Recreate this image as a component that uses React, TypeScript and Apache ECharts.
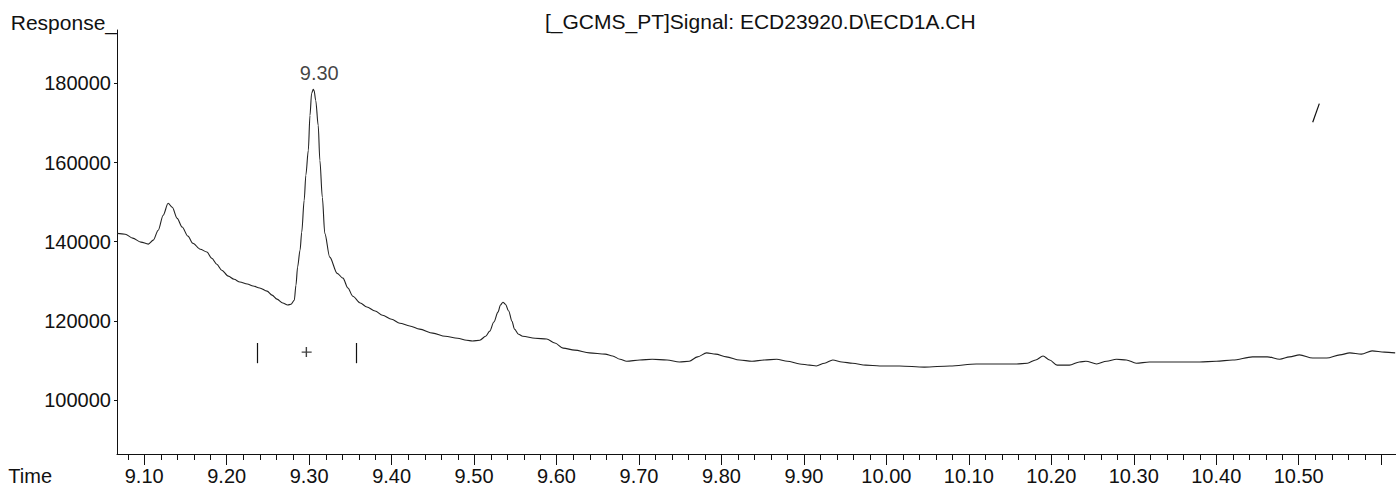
import React, { useEffect, useRef } from "react";
import * as echarts from "echarts";

// Retention time (min) of each trace point
const times = [
  9.067, 9.077, 9.086, 9.096, 9.105, 9.111, 9.117, 9.123, 9.129, 9.134,
  9.140, 9.146, 9.153, 9.159, 9.168, 9.176, 9.182, 9.188, 9.194, 9.202,
  9.209, 9.216, 9.225, 9.232, 9.240, 9.249, 9.255, 9.261, 9.268, 9.274,
  9.278, 9.282, 9.284, 9.286, 9.289, 9.291, 9.294, 9.296, 9.299, 9.301,
  9.303, 9.305, 9.306, 9.308, 9.311, 9.313, 9.316, 9.319, 9.325, 9.334,
  9.341, 9.347, 9.353, 9.362, 9.370, 9.380, 9.389, 9.400, 9.410, 9.422,
  9.434, 9.450, 9.465, 9.480, 9.491, 9.498, 9.507, 9.514, 9.519, 9.524,
  9.529, 9.532, 9.535, 9.538, 9.542, 9.546, 9.549, 9.554, 9.559, 9.574,
  9.588, 9.598, 9.608, 9.622, 9.640, 9.659, 9.668, 9.677, 9.685, 9.701,
  9.716, 9.734, 9.749, 9.761, 9.771, 9.782, 9.793, 9.806, 9.822, 9.837,
  9.852, 9.867, 9.880, 9.895, 9.907, 9.915, 9.925, 9.935, 9.946, 9.959,
  9.975, 9.992, 10.016, 10.046, 10.077, 10.109, 10.137, 10.158, 10.171, 10.181,
  10.190, 10.198, 10.207, 10.222, 10.234, 10.242, 10.255, 10.267, 10.279, 10.291,
  10.303, 10.319, 10.340, 10.362, 10.380, 10.400, 10.420, 10.444, 10.462, 10.477,
  10.489, 10.501, 10.517, 10.534, 10.550, 10.562, 10.576, 10.589, 10.604, 10.617,
];

// Detector response at each of the times above
const responses = [
  142100, 141900, 140900, 139900, 139400, 140400, 142900, 146700, 149700, 148700,
  145900, 143700, 141400, 139600, 138100, 137400, 135800, 134300, 132800, 131300,
  130500, 129800, 129300, 128800, 128300, 127500, 126500, 125500, 124500, 124000,
  124200, 125200, 129000, 133600, 137900, 142400, 150500, 156800, 163100, 171900,
  177500, 178500, 178200, 175700, 169400, 160600, 151200, 142100, 136100, 132000,
  130800, 128300, 126200, 124500, 123500, 122500, 121400, 120400, 119400, 118700,
  117900, 116900, 116100, 115600, 115100, 114900, 115100, 116100, 117400, 119700,
  122200, 124000, 124700, 124200, 122500, 119900, 117900, 116600, 116100, 115600,
  115400, 114400, 113100, 112600, 111900, 111600, 111100, 110300, 109800, 110100,
  110300, 110100, 109600, 109800, 110900, 111900, 111600, 110900, 110100, 109800,
  110100, 110300, 109800, 109100, 108800, 108600, 109300, 110100, 109600, 109300,
  108800, 108600, 108600, 108300, 108600, 109100, 109100, 109100, 109300, 110100,
  111100, 110100, 108800, 108800, 109600, 109800, 109100, 109800, 110300, 110100,
  109300, 109600, 109600, 109600, 109600, 109800, 110100, 110900, 110900, 110300,
  110900, 111400, 110600, 110600, 111400, 111900, 111600, 112400, 112100, 111900,
];

const xTickLabels = [9.1, 9.2, 9.3, 9.4, 9.5, 9.6, 9.7, 9.8, 9.9, 10.0, 10.1, 10.2, 10.3, 10.4, 10.5];
const xMajorTicks = [...xTickLabels, 10.6];
// minor ticks every 0.02 min between the labelled ones
const xMinorTicks = [
  9.08, 9.12, 9.14, 9.16, 9.18, 9.22, 9.24, 9.26, 9.28, 9.32, 9.34, 9.36, 9.38,
  9.42, 9.44, 9.46, 9.48, 9.52, 9.54, 9.56, 9.58, 9.62, 9.64, 9.66, 9.68,
  9.72, 9.74, 9.76, 9.78, 9.82, 9.84, 9.86, 9.88, 9.92, 9.94, 9.96, 9.98,
  10.02, 10.04, 10.06, 10.08, 10.12, 10.14, 10.16, 10.18, 10.22, 10.24, 10.26, 10.28,
  10.32, 10.34, 10.36, 10.38, 10.42, 10.44, 10.46, 10.48, 10.52, 10.54, 10.56, 10.58,
];
const yTickLabels = [100000, 120000, 140000, 160000, 180000];

const titleText = "[_GCMS_PT]Signal: ECD23920.D\\ECD1A.CH";
const yAxisName = "Response_";
const xAxisName = "Time";

const peakTime = 9.305;
const peakResponse = 178500;
const peakLabel = "9.30";

// Integration start/end marks and the apex "+" of the labelled peak
const integrationMarks = [9.237, 9.357];
const integrationTop = 114400;
const integrationBottom = 109300;
const apexMarkTime = 9.297;
const apexMarkResponse = 112100;

// Small stray stroke at the upper right of the page
const strayStroke = [
  [10.517, 170200],
  [10.525, 174900],
];

const X_MIN = 9.067;
const X_MAX = 10.618;
const Y_MIN = 86350;
const Y_MAX = 193500;
const MINOR_TICK_LEN = 6;

const FONT = "'Liberation Sans', Arial, Helvetica, sans-serif";

export default function App() {
  const ref = useRef<HTMLDivElement>(null);

  useEffect(() => {
    document.body.style.margin = "0";
    document.body.style.overflow = "hidden";
    if (!ref.current) return;
    const chart = echarts.init(ref.current, undefined, { renderer: "svg" });

    const markLineData: any[] = integrationMarks.map((t) => [
      { coord: [t, integrationTop] },
      { coord: [t, integrationBottom] },
    ]);
    markLineData.push([{ coord: strayStroke[0] }, { coord: strayStroke[1] }]);

    const option: any = {
      animation: false,
      backgroundColor: "#ffffff",
      textStyle: { fontFamily: FONT, color: "#111" },
      title: {
        text: titleText,
        left: 540,
        top: 6,
        padding: 5,
        textStyle: { fontSize: 21, fontWeight: "normal", color: "#111", fontFamily: FONT },
      },
      grid: { left: 117, right: 0, top: 30, bottom: 43, containLabel: false },
      xAxis: {
        type: "value",
        min: X_MIN,
        max: X_MAX,
        name: xAxisName,
        nameLocation: "start",
        nameGap: 65,
        nameTextStyle: {
          fontSize: 20,
          color: "#111",
          fontFamily: FONT,
          align: "right",
          verticalAlign: "top",
          padding: [12, 0, 0, 0],
        },
        axisLine: { show: true, lineStyle: { color: "#111", width: 1 } },
        axisTick: { show: true, length: 11, customValues: xMajorTicks, lineStyle: { color: "#111", width: 1 } },
        axisLabel: {
          show: true,
          customValues: xTickLabels,
          margin: 12,
          fontSize: 20,
          color: "#111",
          fontFamily: FONT,
          formatter: (v: number) => v.toFixed(2),
        },
        splitLine: { show: false },
      },
      yAxis: {
        type: "value",
        min: Y_MIN,
        max: Y_MAX,
        name: yAxisName,
        nameLocation: "end",
        nameGap: 8,
        nameTextStyle: {
          fontSize: 21,
          color: "#111",
          fontFamily: FONT,
          align: "right",
          verticalAlign: "middle",
        },
        axisLine: { show: true, lineStyle: { color: "#111", width: 1 } },
        axisTick: { show: true, length: 3, customValues: yTickLabels, lineStyle: { color: "#111", width: 1 } },
        axisLabel: {
          show: true,
          customValues: yTickLabels,
          margin: 6,
          fontSize: 20,
          color: "#111",
          fontFamily: FONT,
          formatter: (v: number) => String(v),
        },
        splitLine: { show: false },
      },
      series: [
        {
          type: "line",
          name: "ECD1A",
          data: times.map((t, i) => [t, responses[i]]),
          showSymbol: false,
          smooth: 0.3,
          smoothMonotone: "x",
          lineStyle: { color: "#222", width: 1.1 },
          markLine: {
            silent: true,
            symbol: ["none", "none"],
            label: { show: false },
            lineStyle: { color: "#111", type: "solid", width: 1.2 },
            data: markLineData,
          },
        },
        {
          type: "scatter",
          name: "peak label",
          data: [[peakTime, peakResponse]],
          symbolSize: 1,
          itemStyle: { color: "rgba(0,0,0,0)" },
          label: {
            show: true,
            position: "top",
            distance: 6,
            offset: [6, 0],
            formatter: peakLabel,
            fontSize: 20,
            color: "#111",
            fontFamily: FONT,
          },
        },
        {
          type: "scatter",
          name: "apex mark",
          data: [[apexMarkTime, apexMarkResponse]],
          symbol: "path://M4,0h1.4v10h-1.4zM0,4.3h10v1.4h-10z",
          symbolSize: 10,
          itemStyle: { color: "#111" },
        },
      ],
    };

    chart.setOption(option);

    // Minor x ticks: positioned through the axis scale of the chart
    const yBase = chart.convertToPixel({ yAxisIndex: 0 }, Y_MIN) as number;
    const minorElements = xMinorTicks.map((v) => {
      const px = Math.round(chart.convertToPixel({ xAxisIndex: 0 }, v) as number) + 0.5;
      return {
        type: "line",
        silent: true,
        z: 50,
        shape: { x1: px, y1: yBase, x2: px, y2: yBase + MINOR_TICK_LEN },
        style: { stroke: "#111", lineWidth: 1 },
      };
    });
    chart.setOption({ graphic: minorElements });

    return () => {
      chart.dispose();
    };
  }, []);

  return <div ref={ref} style={{ width: 1396, height: 497 }} />;
}
